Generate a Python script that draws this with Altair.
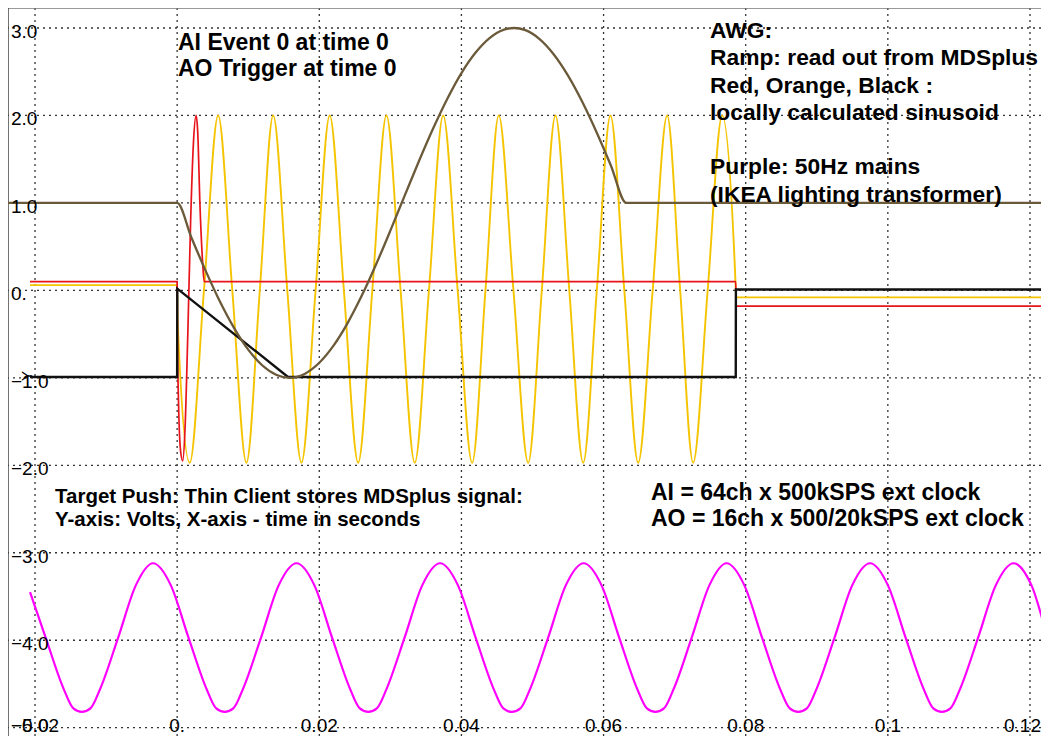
import altair as alt
import pandas as pd

# ---------------- data ----------------
# Purple: 50 Hz mains
purple_t = [-0.0207, -0.0185, -0.0160, -0.0146, -0.0134, -0.0122, -0.0108, -0.0083, -0.0058, -0.0034,
            -0.0009, 0.0016, 0.0041, 0.0055, 0.0067, 0.0079, 0.0093, 0.0118, 0.0143, 0.0168,
            0.0193, 0.0218, 0.0243, 0.0257, 0.0269, 0.0281, 0.0295, 0.0320, 0.0345, 0.0370,
            0.0395, 0.0420, 0.0445, 0.0459, 0.0471, 0.0483, 0.0497, 0.0522, 0.0547, 0.0572,
            0.0597, 0.0622, 0.0647, 0.0661, 0.0673, 0.0685, 0.0699, 0.0724, 0.0749, 0.0773,
            0.0798, 0.0823, 0.0848, 0.0862, 0.0874, 0.0886, 0.0900, 0.0925, 0.0950, 0.0975,
            0.1000, 0.1025, 0.1050, 0.1064, 0.1076, 0.1088, 0.1102, 0.1127, 0.1152, 0.1177,
            0.1202, 0.1227, 0.1235]
purple_v = [-3.45, -3.97, -4.55, -4.78, -4.82, -4.78, -4.55, -3.97, -3.37, -3.12,
            -3.37, -3.97, -4.55, -4.78, -4.82, -4.78, -4.55, -3.97, -3.37, -3.12,
            -3.37, -3.97, -4.55, -4.78, -4.82, -4.78, -4.55, -3.97, -3.37, -3.12,
            -3.37, -3.97, -4.55, -4.78, -4.82, -4.78, -4.55, -3.97, -3.37, -3.12,
            -3.37, -3.97, -4.55, -4.78, -4.82, -4.78, -4.55, -3.97, -3.37, -3.12,
            -3.37, -3.97, -4.55, -4.78, -4.82, -4.78, -4.55, -3.97, -3.37, -3.12,
            -3.37, -3.97, -4.55, -4.78, -4.82, -4.78, -4.55, -3.97, -3.37, -3.12,
            -3.37, -4.00, -4.15]

# Orange (yellow) locally calculated sinusoid
yellow_t = [-0.0207, 0.0, 0.00005, 0.00177, 0.00377, 0.00577, 0.00776, 0.00975, 0.01163,
            0.01351, 0.0155, 0.01749, 0.01948, 0.02147, 0.02346, 0.02547, 0.02746, 0.02945,
            0.03144, 0.03343, 0.03543, 0.03743, 0.03947, 0.04151, 0.04338, 0.04525, 0.04732,
            0.04939, 0.05131, 0.05323, 0.05518, 0.05713, 0.05905, 0.06097, 0.06292, 0.06487,
            0.06691, 0.06895, 0.07078, 0.0726, 0.07465, 0.07669, 0.0786, 0.07865, 0.1235]
yellow_v = [0.06, 0.06, -0.32, -1.97, 0.0, 2.0, 0.0, -1.97, 0.0,
            2.0, 0.0, -1.97, 0.0, 2.0, 0.0, -1.97, 0.0, 2.0,
            0.0, -1.97, 0.0, 2.0, 0.0, -1.97, 0.0, 2.0, 0.0,
            -1.97, 0.0, 2.0, 0.0, -1.97, 0.0, 2.0, 0.0, -1.97,
            0.0, 2.0, 0.0, -1.97, 0.0, 2.0, 0.02, -0.08, -0.08]

# Red locally calculated sinusoid
red_t = [-0.0207, 0.0, 0.00003, 0.0002, 0.0005, 0.00079, 0.0011, 0.0015, 0.0019, 0.0023,
         0.00267, 0.0029, 0.0032, 0.0036, 0.0038, 0.0786, 0.07865, 0.1235]
red_v = [0.10, 0.10, -0.46, -1.3, -1.85, -1.95, -1.6, -0.5, 0.8, 1.7,
         2.0, 1.8, 1.0, 0.3, 0.10, 0.10, -0.18, -0.18]

# Black locally calculated ramp
black_t = [-0.0207, 0.0, 0.00002, 0.0156, 0.0786, 0.07862, 0.1235]
black_v = [-0.99, -0.99, 0.02, -0.99, -0.99, 0.01, 0.01]

# Brown: ramp read out from MDSplus
brown_t = [-0.0240, 0.0, 0.002, 0.004, 0.006, 0.008, 0.010, 0.012, 0.014, 0.0158,
           0.018, 0.020, 0.022, 0.024, 0.026, 0.028, 0.030, 0.032, 0.034, 0.036,
           0.038, 0.040, 0.042, 0.044, 0.046, 0.0474, 0.049, 0.051, 0.053, 0.055,
           0.057, 0.059, 0.061, 0.0632, 0.1235]
brown_v = [1.0, 1.0, 0.605, 0.226, -0.124, -0.428, -0.677, -0.859, -0.968, -1.0,
           -0.952, -0.828, -0.632, -0.371, -0.057, 0.299, 0.683, 1.080, 1.473, 1.847,
           2.188, 2.484, 2.719, 2.887, 2.981, 3.0, 2.975, 2.873, 2.697, 2.455,
           2.156, 1.811, 1.434, 1.0, 1.0]

# ticks
x_ticks = [-0.02, 0.0, 0.02, 0.04, 0.06, 0.08, 0.10, 0.12]
x_labels = ["\u22120.02", "0.", "0.02", "0.04", "0.06", "0.08", "0.1", "0.12"]
y_ticks = [3, 2, 1, 0, -1, -2, -3, -4, -5]
y_labels = ["3.0", "2.0", "1.0", "0.", "\u22121.0", "\u22122.0", "\u22123.0", "\u22124.0", "\u22125.0"]

note_trigger = ["AI Event 0 at time 0", "AO Trigger at time 0"]
note_awg = ["AWG:", "Ramp: read out from MDSplus", "Red, Orange, Black :",
            "locally calculated sinusoid"]
note_mains = ["Purple: 50Hz mains", "(IKEA lighting transformer)"]
note_push = ["Target Push: Thin Client stores MDSplus signal:",
             "Y-axis: Volts, X-axis - time in seconds"]
note_ai = ["AI = 64ch x 500kSPS ext clock", "AO = 16ch x 500/20kSPS ext clock"]

# ---------------- chart ----------------
W, H = 1033, 728
FONT = "Liberation Sans"
xs = alt.Scale(domain=[-0.0238, 0.12155], nice=False, zero=False)
ys = alt.Scale(domain=[-5.095, 3.2287], nice=False, zero=False)


def frame(t, v):
    return pd.DataFrame({"t": t, "v": v, "i": list(range(len(t)))})


def line(t, v, color, width, interp):
    return alt.Chart(frame(t, v)).mark_line(
        color=color, strokeWidth=width, interpolate=interp, clip=True
    ).encode(
        x=alt.X("t:Q", scale=xs, axis=None),
        y=alt.Y("v:Q", scale=ys, axis=None),
        order="i:Q",
    )


grid_style = dict(color="#333333", strokeDash=[2, 4], strokeWidth=1.3)
vgrid = alt.Chart(pd.DataFrame({"t": x_ticks})).mark_rule(**grid_style).encode(
    x=alt.X("t:Q", scale=xs, axis=None))
hgrid = alt.Chart(pd.DataFrame({"v": y_ticks})).mark_rule(**grid_style).encode(
    y=alt.Y("v:Q", scale=ys, axis=None))

# frame: only the top and left edges are visible in the reference
border_top = alt.Chart(pd.DataFrame({"a": [0]})).mark_rule(color="#777777", strokeWidth=1.5).encode(
    x=alt.value(0), x2=alt.value(W), y=alt.value(0))
border_left = alt.Chart(pd.DataFrame({"a": [0]})).mark_rule(color="#444444", strokeWidth=1.5).encode(
    x=alt.value(0), y=alt.value(0), y2=alt.value(H))

ylab_df = pd.DataFrame({"v": y_ticks, "lab": y_labels})
ylab = alt.Chart(ylab_df).mark_text(
    align="left", baseline="alphabetic", dy=10, font=FONT, fontSize=19, color="black"
).encode(x=alt.value(3), y=alt.Y("v:Q", scale=ys, axis=None), text="lab:N"
).transform_filter("datum.v > -4.5")
ylab_last = alt.Chart(ylab_df).mark_text(
    align="left", baseline="bottom", font=FONT, fontSize=19, color="black"
).encode(x=alt.value(3), y=alt.value(H), text="lab:N"
).transform_filter("datum.v < -4.5")

xlab_df = pd.DataFrame({"t": x_ticks, "lab": x_labels})
xlab = alt.Chart(xlab_df).mark_text(
    align="center", baseline="alphabetic", font=FONT, fontSize=19, color="black"
).encode(x=alt.X("t:Q", scale=xs, axis=None), y=alt.value(H - 4), text="lab:N"
).transform_filter("datum.t < 0.11")
xlab_last = alt.Chart(xlab_df).mark_text(
    align="right", baseline="alphabetic", font=FONT, fontSize=19, color="black", dx=11
).encode(x=alt.X("t:Q", scale=xs, axis=None), y=alt.value(H - 4), text="lab:N"
).transform_filter("datum.t > 0.11")

ytitle = alt.Chart(pd.DataFrame({"a": [0]})).mark_text(
    text="Y", angle=270, font=FONT, fontSize=15, align="center", baseline="middle",
    color="black"
).encode(x=alt.value(19), y=alt.value(368))


def note(lines, x, y, size, lh):
    return alt.Chart(pd.DataFrame({"a": [0]})).mark_text(
        text=lines, align="left", baseline="alphabetic", font=FONT, fontSize=size,
        fontWeight="bold", lineHeight=lh, color="black"
    ).encode(x=alt.value(x), y=alt.value(y))


chart = alt.layer(
    vgrid, hgrid, border_top, border_left,
    line(yellow_t, yellow_v, "#f5c400", 1.9, "monotone"),
    line(red_t, red_v, "#e8141c", 1.7, "monotone"),
    line(black_t, black_v, "#111111", 2.4, "linear"),
    line(brown_t, brown_v, "#6b5a3a", 2.3, "monotone"),
    line(purple_t, purple_v, "#ff00ff", 2.2, "monotone"),
    ylab, ylab_last, xlab, xlab_last, ytitle,
    note(note_trigger, 170, 42, 23, 26),
    note(note_awg, 702, 30, 22.8, 27.3),
    note(note_mains, 702, 165.5, 22.8, 28.5),
    note(note_push, 47, 495, 20.5, 23),
    note(note_ai, 643, 492, 23, 26),
).properties(
    width=W, height=H, padding=0, autosize="none", background="white"
).configure_view(strokeWidth=0)

chart.save("out.html", embed_options={"renderer": "svg", "actions": False})
